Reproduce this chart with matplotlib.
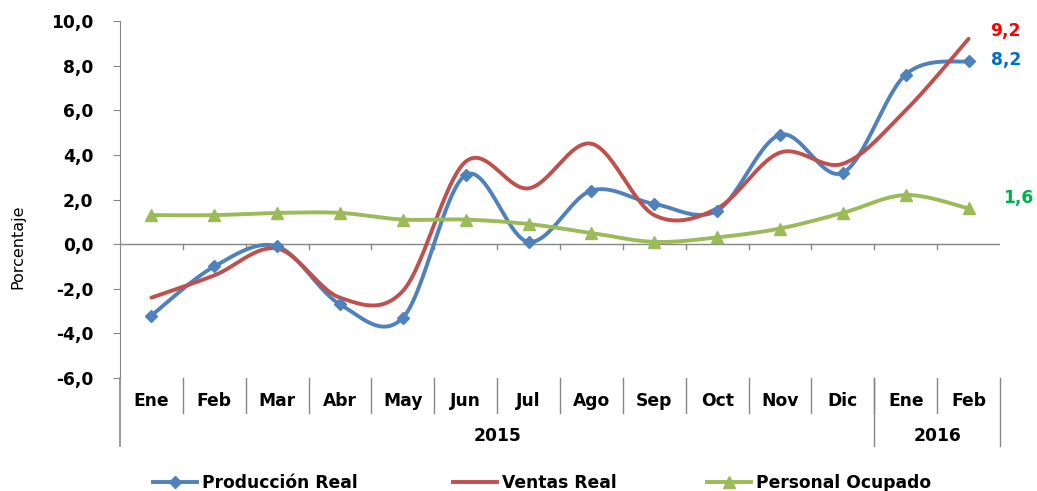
import numpy as np
import matplotlib.pyplot as plt
from matplotlib.lines import Line2D

meses = ['Ene', 'Feb', 'Mar', 'Abr', 'May', 'Jun', 'Jul', 'Ago', 'Sep', 'Oct', 'Nov', 'Dic', 'Ene', 'Feb']
anios = ['2015', '2016']
meses_por_anio = [12, 2]

produccion = [-3.2, -1.0, -0.1, -2.7, -3.3, 3.1, 0.1, 2.4, 1.8, 1.5, 4.9, 3.2, 7.6, 8.2]
ventas = [-2.4, -1.4, -0.2, -2.4, -2.1, 3.7, 2.5, 4.5, 1.3, 1.6, 4.1, 3.6, 6.0, 9.2]
personal = [1.3, 1.3, 1.4, 1.4, 1.1, 1.1, 0.9, 0.5, 0.1, 0.3, 0.7, 1.4, 2.2, 1.6]

AZUL = '#4F81BD'
ROJO = '#C0504D'
VERDE = '#9BBB59'
GRIS = '#868686'
FS = 12.3


def suavizar(y, n=30):
    # Curva tipo Excel (Catmull-Rom)
    y = np.asarray(y, dtype=float)
    x = np.arange(len(y), dtype=float)
    px = np.concatenate([[x[0]], x, [x[-1]]])
    py = np.concatenate([[y[0]], y, [y[-1]]])
    xs, ys = [], []
    for i in range(1, len(px) - 2):
        p0, p1, p2, p3 = px[i - 1], px[i], px[i + 1], px[i + 2]
        q0, q1, q2, q3 = py[i - 1], py[i], py[i + 1], py[i + 2]
        c1x, c1y = p1 + (p2 - p0) / 6, q1 + (q2 - q0) / 6
        c2x, c2y = p2 - (p3 - p1) / 6, q2 - (q3 - q1) / 6
        t = np.linspace(0, 1, n)
        a, b, c, d = (1 - t) ** 3, 3 * t * (1 - t) ** 2, 3 * t ** 2 * (1 - t), t ** 3
        xs.append(a * p1 + b * c1x + c * c2x + d * p2)
        ys.append(a * q1 + b * c1y + c * c2y + d * q2)
    return np.concatenate(xs), np.concatenate(ys)


fig = plt.figure(figsize=(10.37, 4.91), dpi=100)
ax = fig.add_axes([120 / 1037, 1 - 378 / 491, 880 / 1037, 357 / 491])

x = np.arange(len(meses))
for serie, color, marker, ms in [(produccion, AZUL, 'D', 6), (ventas, ROJO, None, 0), (personal, VERDE, '^', 8)]:
    sx, sy = suavizar(serie)
    ax.plot(sx, sy, color=color, lw=2.8, solid_capstyle='round', zorder=3)
    if marker:
        ax.plot(x, serie, linestyle='none', marker=marker, ms=ms, color=color, zorder=4)

ax.set_xlim(-0.5, len(meses) - 0.5)
ax.set_ylim(-6, 10)
ax.set_yticks(np.arange(-6, 11, 2))
ax.set_yticklabels([f'{v:.1f}'.replace('.', ',') for v in np.arange(-6, 11, 2)],
                   fontsize=FS, fontweight='bold')
ax.tick_params(axis='y', direction='out', length=5, color=GRIS, pad=14)
ax.set_xticks([])
for s in ['top', 'right', 'bottom']:
    ax.spines[s].set_visible(False)
ax.spines['left'].set_color(GRIS)
ax.spines['left'].set_bounds(-6, 10)
fig.text(18 / 1037, 1 - 247 / 491, 'Porcentaje', rotation=90, ha='center', va='center', fontsize=11.5)

# linea del cero con marcas
ax.axhline(0, color=GRIS, lw=1, zorder=1)
for b in np.arange(0.5, len(meses) - 1, 1):
    ax.plot([b, b], [0, -0.22], color=GRIS, lw=1, zorder=1)

# ejes de categorias abajo
tr = ax.get_xaxis_transform()
y_mes, y_anio = -0.099, -0.19
ax.plot([-0.5, -0.5], [0, y_anio], transform=tr, color=GRIS, lw=1.2, clip_on=False)
for b in np.arange(0.5, len(meses) - 0.5, 1):
    ax.plot([b, b], [0, y_mes], transform=tr, color=GRIS, lw=1, clip_on=False)
for i, m in enumerate(meses):
    ax.text(i, -0.064, m, transform=tr, ha='center', va='center', fontsize=FS, fontweight='bold')
inicio = 0
for anio, n in zip(anios, meses_por_anio):
    fin = inicio + n
    ax.plot([fin - 0.5, fin - 0.5], [0, y_anio], transform=tr, color=GRIS, lw=1, clip_on=False)
    ax.text((inicio + fin - 1) / 2, -0.162, anio, transform=tr, ha='center', va='center',
            fontsize=FS, fontweight='bold')
    inicio = fin

# etiquetas de valor final
ax.text(13.35, ventas[-1] + 0.35, '9,2', color='#FF0000', fontsize=FS, fontweight='bold', va='center')
ax.text(13.35, produccion[-1] + 0.05, '8,2', color='#0070C0', fontsize=FS, fontweight='bold', va='center')
ax.text(13.55, personal[-1] + 0.45, '1,6', color='#00B050', fontsize=FS, fontweight='bold', va='center')

# leyenda: una entrada por serie, en sus posiciones
entradas = [
    (Line2D([], [], color=AZUL, lw=2.8, marker='D', ms=6), 'Producción Real', 153),
    (Line2D([], [], color=ROJO, lw=2.8), 'Ventas Real', 453),
    (Line2D([], [], color=VERDE, lw=2.8, marker='^', ms=8), 'Personal Ocupado', 707),
]
for h, lab, px in entradas:
    fig.legend([h], [lab], loc='center left', bbox_to_anchor=(px / 1037, 1 - 483 / 491),
               frameon=False, handlelength=2.6, handletextpad=0.25, borderpad=0, borderaxespad=0,
               prop={'size': FS, 'weight': 'bold'})

fig.savefig('out.png', dpi=100)
